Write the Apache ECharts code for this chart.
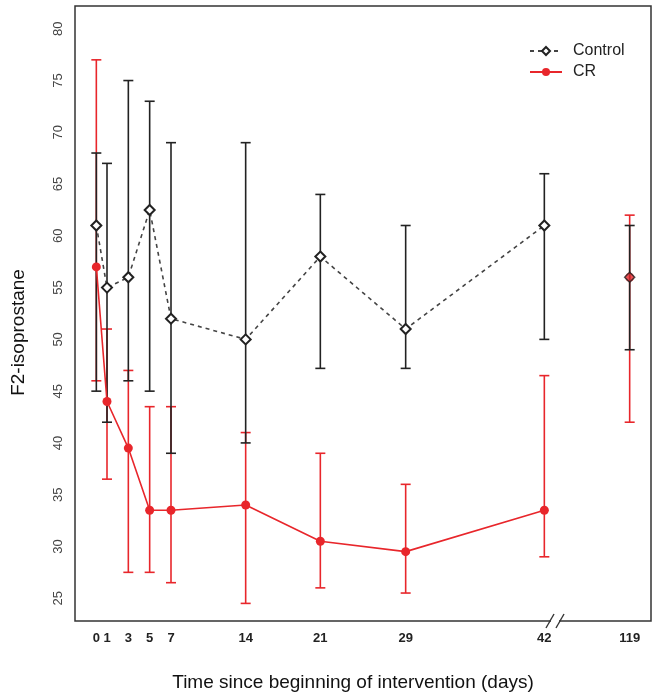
<!DOCTYPE html>
<html>
<head>
<meta charset="utf-8">
<style>
  html, body { margin: 0; padding: 0; background: #fff; }
  #chart { width: 658px; height: 698px; }
</style>
<script src="https://cdn.jsdelivr.net/npm/echarts@6/dist/echarts.min.js"></script>
</head>
<body>
<div id="chart"></div>
<script>
const days = [0, 1, 3, 5, 7, 14, 21, 29, 42, 119]
const controlMean = [61, 55, 56, 62.5, 52, 50, 58, 51, 61, 56]
const controlLow = [45, 42, 46, 45, 39, 40, 47.2, 47.2, 50, 49]
const controlHigh = [68, 67, 75, 73, 69, 69, 64, 61, 66, 61]
const crMean = [57, 44, 39.5, 33.5, 33.5, 34, 30.5, 29.5, 33.5, 56]
const crLow = [46, 36.5, 27.5, 27.5, 26.5, 24.5, 26, 25.5, 29, 42]
const crHigh = [77, 51, 47, 43.5, 43.5, 41, 39, 36, 46.5, 62]
const yTicks = [25, 30, 35, 40, 45, 50, 55, 60, 65, 70, 75, 80]

// broken x axis: everything after day 42 is drawn at position 50
const lastDay = 42
const breakPos = 43
const afterBreakPos = 50
function pos (d) { return d > lastDay ? afterBreakPos : d }
const xTicks = days.map(pos)

const RED = '#e8262b'
const BLACK = '#222'
const FONT = 'Liberation Sans, Arial, sans-serif'

function errorBars (name, low, high, color) {
  return {
    name: name,
    type: 'custom',
    silent: true,
    encode: { x: 0, y: [1, 2] },
    data: days.map((d, i) => [pos(d), low[i], high[i]]),
    renderItem (params, api) {
      const lo = api.coord([api.value(0), api.value(1)])
      const hi = api.coord([api.value(0), api.value(2)])
      const w = 5
      const style = { stroke: color, lineWidth: 1.6 }
      return {
        type: 'group',
        children: [
          { type: 'line', shape: { x1: lo[0], y1: lo[1], x2: hi[0], y2: hi[1] }, style },
          { type: 'line', shape: { x1: lo[0] - w, y1: lo[1], x2: lo[0] + w, y2: lo[1] }, style },
          { type: 'line', shape: { x1: hi[0] - w, y1: hi[1], x2: hi[0] + w, y2: hi[1] }, style }
        ]
      }
    }
  }
}

function before (mean) {
  return days.filter(d => d <= lastDay).map((d, i) => [pos(d), mean[i]])
}
function after (mean) {
  return days.map((d, i) => [pos(d), mean[i]]).filter((p, i) => days[i] > lastDay)
}

const chart = echarts.init(document.getElementById('chart'))

chart.setOption({
  animation: false,
  textStyle: { fontFamily: FONT },
  grid: {
    left: 75,
    right: 7,
    top: 6,
    bottom: 77,
    show: true,
    borderColor: '#333',
    borderWidth: 1.5
  },
  legend: {
    data: ['Control', 'CR'],
    orient: 'vertical',
    left: 524,
    top: 38,
    itemWidth: 32,
    itemHeight: 10,
    itemGap: 5,
    selectedMode: false,
    textStyle: { fontSize: 16, color: '#222', padding: [0, 0, 0, 6] }
  },
  xAxis: {
    type: 'value',
    min: -2,
    max: 52,
    name: 'Time since beginning of intervention (days)',
    nameLocation: 'middle',
    nameGap: 52,
    nameTextStyle: { fontSize: 19, color: '#111', padding: [0, 20, 0, 0] },
    axisLine: { show: false },
    axisTick: { show: false },
    splitLine: { show: false },
    axisLabel: {
      customValues: xTicks,
      formatter: v => (v === afterBreakPos ? String(days[days.length - 1]) : String(v)),
      fontSize: 13,
      fontWeight: 'bold',
      color: '#222',
      margin: 11
    }
  },
  yAxis: {
    type: 'value',
    min: 22.8,
    max: 82.2,
    name: 'F2-isoprostane',
    nameLocation: 'middle',
    nameGap: 47,
    nameTextStyle: { fontSize: 19, color: '#111', padding: [0, 38, 0, 0] },
    axisLine: { show: false },
    axisTick: { show: false },
    splitLine: { show: false },
    axisLabel: {
      customValues: yTicks,
      rotate: 90,
      fontSize: 13,
      color: '#444',
      margin: 10
    }
  },
  series: [
    errorBars('CR bars', crLow, crHigh, RED),
    {
      name: 'CR',
      type: 'line',
      data: before(crMean),
      symbol: 'circle',
      symbolSize: 9,
      itemStyle: { color: RED },
      lineStyle: { color: RED, width: 1.6 }
    },
    {
      name: 'CR last',
      type: 'scatter',
      data: after(crMean),
      symbol: 'circle',
      symbolSize: 9,
      itemStyle: { color: RED }
    },
    errorBars('Control bars', controlLow, controlHigh, BLACK),
    {
      name: 'Control',
      type: 'line',
      data: before(controlMean),
      symbol: 'emptyDiamond',
      symbolSize: 10,
      itemStyle: { color: BLACK, borderWidth: 1.5 },
      lineStyle: { color: '#444', width: 1.6, type: [4, 4] }
    },
    {
      name: 'Control last',
      type: 'scatter',
      data: after(controlMean),
      symbol: 'diamond',
      symbolSize: 10,
      itemStyle: { color: 'rgba(0,0,0,0)', borderColor: BLACK, borderWidth: 1.5 }
    }
  ]
})

// "//" break mark on the x axis
const bx = chart.convertToPixel({ xAxisIndex: 0 }, breakPos)
const by = chart.convertToPixel({ yAxisIndex: 0 }, 22.8)
const slash = dx => ({
  type: 'line',
  shape: { x1: bx + dx - 4, y1: by + 7, x2: bx + dx + 4, y2: by - 7 },
  style: { stroke: '#333', lineWidth: 1.4 },
  z: 100
})
chart.setOption({
  graphic: [
    { type: 'rect', shape: { x: bx - 4, y: by - 2, width: 8, height: 4 }, style: { fill: '#fff' }, z: 99 },
    slash(-5),
    slash(5)
  ]
})
</script>
</body>
</html>
